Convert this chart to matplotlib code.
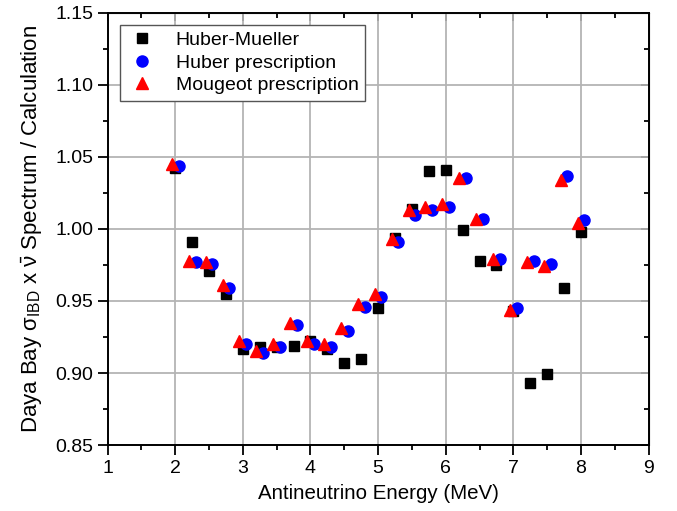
import matplotlib.pyplot as plt
from matplotlib.ticker import MultipleLocator

plt.rcParams['font.family'] = ['Liberation Sans', 'DejaVu Sans']
plt.rcParams['mathtext.fontset'] = 'custom'
plt.rcParams['mathtext.rm'] = 'Liberation Sans'
plt.rcParams['mathtext.it'] = 'Liberation Sans'

# energy bins (MeV)
energy = [2.0, 2.25, 2.5, 2.75, 3.0, 3.25, 3.5, 3.75, 4.0, 4.25, 4.5, 4.75, 5.0,
          5.25, 5.5, 5.75, 6.0, 6.25, 6.5, 6.75, 7.0, 7.25, 7.5, 7.75, 8.0]

huber_mueller = [1.042, 0.991, 0.971, 0.955, 0.917, 0.918, 0.918, 0.919, 0.922, 0.917,
                 0.907, 0.910, 0.945, 0.994, 1.014, 1.040, 1.041, 0.999, 0.978, 0.975,
                 0.943, 0.893, 0.899, 0.959, 0.998]
huber_presc = [1.044, 0.977, 0.976, 0.959, 0.920, 0.914, 0.918, 0.933, 0.920, 0.918,
               0.929, 0.946, 0.953, 0.991, 1.010, 1.013, 1.015, 1.035, 1.007, 0.979,
               0.945, 0.978, 0.976, 1.037, 1.006]
mougeot_presc = [1.045, 0.978, 0.977, 0.961, 0.922, 0.915, 0.920, 0.935, 0.922, 0.920,
                 0.931, 0.948, 0.955, 0.993, 1.013, 1.015, 1.017, 1.035, 1.007, 0.979,
                 0.944, 0.977, 0.974, 1.034, 1.004]

dx = 0.05
x_blue = [e + dx for e in energy]
x_red = [e - dx for e in energy]

fig = plt.figure(figsize=(6.77, 5.11), dpi=100)
ax = fig.add_axes([0.159, 0.129, 0.799, 0.846])

ax.plot(energy, huber_mueller, 's', color='black', markersize=7, label='Huber-Mueller', zorder=3)
ax.plot(x_blue, huber_presc, 'o', color='blue', markersize=8, label='Huber prescription', zorder=3)
ax.plot(x_red, mougeot_presc, '^', color='red', markersize=9, label='Mougeot prescription', zorder=4)

ax.set_xlim(1, 9)
ax.set_ylim(0.85, 1.15)
ax.xaxis.set_major_locator(MultipleLocator(1))
ax.xaxis.set_minor_locator(MultipleLocator(0.5))
ax.yaxis.set_major_locator(MultipleLocator(0.05))
ax.yaxis.set_minor_locator(MultipleLocator(0.025))
ax.yaxis.set_major_formatter(plt.FormatStrFormatter('%.2f'))

ax.grid(True, which='major', color='#b4b4b4', linewidth=1.3, zorder=0)
ax.set_axisbelow(True)

for sp in ax.spines.values():
    sp.set_linewidth(1.4)

ax.tick_params(which='both', direction='out', width=1.3, labelsize=14, colors='black')
ax.tick_params(which='major', length=7)
ax.tick_params(which='minor', length=3.5)

# inward ticks on top and right
top = ax.secondary_xaxis('top')
top.xaxis.set_major_locator(MultipleLocator(1))
top.xaxis.set_minor_locator(MultipleLocator(0.5))
top.tick_params(which='both', direction='in', width=1.3, labeltop=False)
top.tick_params(which='major', length=6)
top.tick_params(which='minor', length=3.5)
right = ax.secondary_yaxis('right')
right.yaxis.set_major_locator(MultipleLocator(0.05))
right.yaxis.set_minor_locator(MultipleLocator(0.025))
right.tick_params(which='both', direction='in', width=1.3, labelright=False)
right.tick_params(which='major', length=6)
right.tick_params(which='minor', length=3.5)

ax.set_xlabel('Antineutrino Energy (MeV)', fontsize=14.8, labelpad=5)
ax.set_ylabel(r'Daya Bay $\sigma_{\mathrm{IBD}}$ x $\bar{\nu}$ Spectrum / Calculation', fontsize=16, labelpad=7)

leg = ax.legend(loc='upper left', bbox_to_anchor=(0.023, 0.972), borderaxespad=0, fontsize=14,
                fancybox=False, edgecolor='#555555', framealpha=1,
                handletextpad=0.9, borderpad=0.35, labelspacing=0.25, handlelength=1.6)
leg.get_frame().set_linewidth(1.0)

fig.savefig('out.png', dpi=100)
